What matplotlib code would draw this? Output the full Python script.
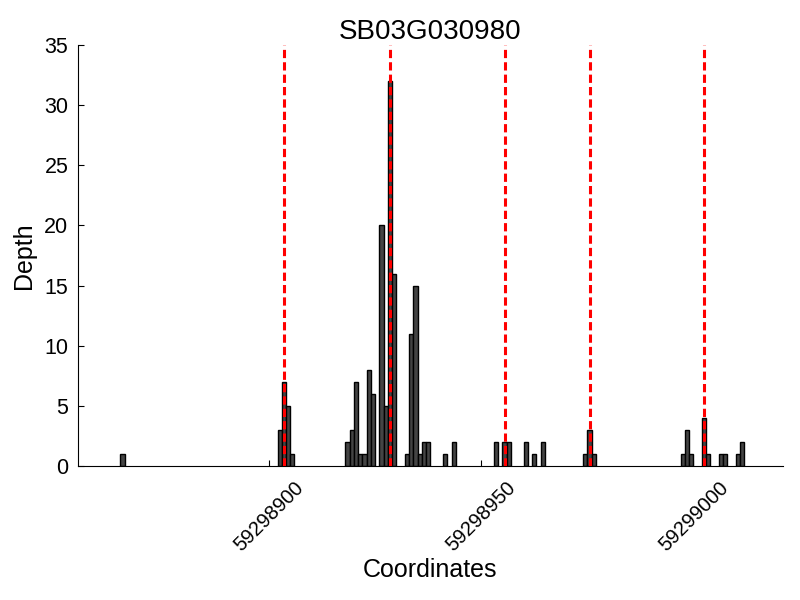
import matplotlib
matplotlib.use("Agg")
import matplotlib.pyplot as plt

plt.rcParams['font.family'] = ['Liberation Sans', 'DejaVu Sans']

title = "SB03G030980"
# bar positions (coordinate) and depths
positions = [59298865,
             59298902, 59298903, 59298904, 59298905,
             59298918, 59298919, 59298920, 59298921, 59298922, 59298923, 59298924,
             59298926, 59298927, 59298928, 59298929,
             59298932, 59298933, 59298934, 59298935, 59298936, 59298937,
             59298941, 59298943,
             59298953, 59298955, 59298956, 59298960, 59298962, 59298964,
             59298974, 59298975, 59298976,
             59298997, 59298998, 59298999, 59299002, 59299003,
             59299006, 59299007, 59299010, 59299011]
depths = [1,
          3, 7, 5, 1,
          2, 3, 7, 1, 1, 8, 6,
          20, 5, 32, 16,
          1, 11, 15, 1, 2, 2,
          1, 2,
          2, 2, 2, 2, 1, 2,
          1, 3, 1,
          1, 3, 1, 4, 1,
          1, 1, 1, 2]
# marker positions (red dashed lines)
markers = [59298903, 59298928, 59298955, 59298975, 59299002]
xticks = [59298900, 59298950, 59299000]
yticks = [0, 5, 10, 15, 20, 25, 30, 35]

fig = plt.figure(figsize=(8, 6), dpi=100)
ax = fig.add_axes([0.0975, 0.2233, 0.8808, 0.7017])

ax.bar(positions, depths, width=1, align='edge', color='#444444',
       edgecolor='black', linewidth=1, zorder=2)
for m in markers:
    ax.axvline(m + 0.5, color='red', linewidth=2.2, linestyle=(0, (2.7, 1.35)), zorder=3)

ax.set_xlim(min(positions) - 10, max(positions) + 10)
ax.set_ylim(0, 35)
ax.set_xticks(xticks)
ax.set_xticklabels([str(t) for t in xticks], rotation=45, fontsize=14.5)
ax.set_yticks(yticks)
ax.set_yticklabels([str(t) for t in yticks], fontsize=15.5)
ax.tick_params(direction='in', length=4, top=False, right=False)
ax.tick_params(axis='x', pad=9)
ax.tick_params(axis='y', pad=7)
for s in ['top', 'right']:
    ax.spines[s].set_visible(False)
ax.set_xlabel("Coordinates", fontsize=18, labelpad=2)
ax.set_ylabel("Depth", fontsize=18, labelpad=6)
ax.set_title(title, fontsize=20, pad=3)

fig.savefig("out.png", dpi=100)
